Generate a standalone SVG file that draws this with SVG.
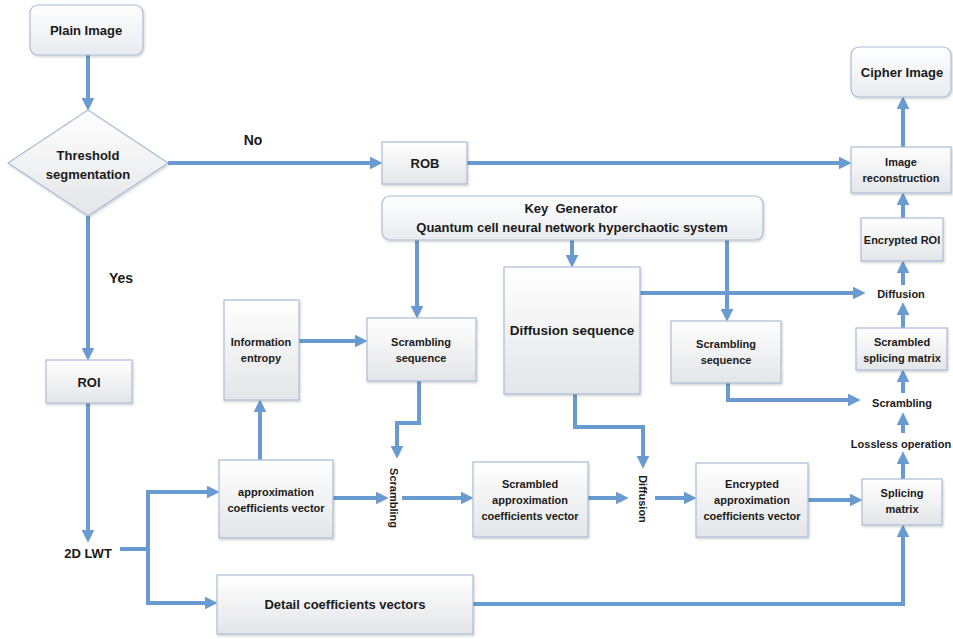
<svg xmlns="http://www.w3.org/2000/svg" width="953" height="639" viewBox="0 0 953 639">
<defs>
<linearGradient id="g" x1="0" y1="0" x2="0" y2="1">
<stop offset="0" stop-color="#ffffff"/>
<stop offset="1" stop-color="#e4e5e7"/>
</linearGradient>
<linearGradient id="gr" x1="0" y1="0" x2="0" y2="1">
<stop offset="0" stop-color="#ffffff"/>
<stop offset="1" stop-color="#e8ebef"/>
</linearGradient>
<filter id="sh" x="-10%" y="-10%" width="120%" height="130%">
<feDropShadow dx="1" dy="1.5" stdDeviation="1" flood-color="#000" flood-opacity="0.18"/>
</filter>
<marker id="ah" viewBox="0 0 12 12" refX="4" refY="6" markerWidth="13" markerHeight="13" markerUnits="userSpaceOnUse" orient="auto">
<path d="M0,0 L12,6 L0,12 z" fill="#6a9bd0"/>
</marker>
</defs>
<style>
.box{fill:url(#g);stroke:#a9bdd6;stroke-width:1.2;filter:url(#sh)}
.rbox{fill:url(#gr);stroke:#a9bdd6;stroke-width:1.2;filter:url(#sh)}
text{font-family:"Liberation Sans",Arial,sans-serif;font-weight:bold;fill:#1a1a1a;text-anchor:middle;dominant-baseline:central}
.s{font-size:11px}
.m{font-size:13px}
.l{font-size:14px}
.d{font-size:13.5px}
.c{fill:none;stroke:#6a9bd0;stroke-width:4}
.a{marker-end:url(#ah)}
</style>
<rect width="953" height="639" fill="#ffffff"/>

<g id="connectors">
<path class="c a" d="M88,55 V102"/>
<path class="c a" d="M168,163 H374"/>
<path class="c a" d="M467,163 H843"/>
<path class="c a" d="M88,216 V352"/>
<path class="c a" d="M88,403 V534"/>
<path class="c a" d="M120,549 H148 V492 H211"/>
<path class="c a" d="M148,549 V603 H209"/>
<path class="c a" d="M260,460 V408"/>
<path class="c a" d="M299,341 H359"/>
<path class="c a" d="M417,240 V310"/>
<path class="c a" d="M572,240 V259"/>
<path class="c a" d="M727,240 V313"/>
<path class="c a" d="M419,381 V423 H397 V450"/>
<path class="c a" d="M333,498 H380"/>
<path class="c a" d="M402,498 H465"/>
<path class="c a" d="M575,394 V427 H643 V460"/>
<path class="c a" d="M588,498 H620"/>
<path class="c a" d="M655,498 H688"/>
<path class="c a" d="M808,500 H854"/>
<path class="c a" d="M473,604 H903 V533"/>
<path class="c a" d="M903,479 V460"/>
<path class="c a" d="M903,433 V421"/>
<path class="c a" d="M903,393 V378"/>
<path class="c a" d="M903,328 V311"/>
<path class="c a" d="M903,285 V269"/>
<path class="c a" d="M903,218 V201"/>
<path class="c a" d="M903,147 V105"/>
<path class="c a" d="M640,293 H857"/>
<path class="c a" d="M728,383 V400 H852"/>
</g>

<g id="plain-image"><rect class="rbox" x="30" y="5" width="113" height="50" rx="8"/><text class="m" x="86" y="30">Plain Image</text></g>
<g id="threshold"><polygon class="box" points="88,110 168,163 88,216 8,163"/><text class="m" x="88" y="155">Threshold</text><text class="m" x="88" y="174">segmentation</text></g>
<g id="label-no"><text class="l" x="253" y="140">No</text></g>
<g id="label-yes"><text class="l" x="121" y="278">Yes</text></g>
<g id="rob"><rect class="box" x="382" y="142" width="85" height="42"/><text class="m" x="425" y="163">ROB</text></g>
<g id="image-reconstruction"><rect class="box" x="851" y="147" width="100" height="46"/><text class="s" x="901" y="162">Image</text><text class="s" x="901" y="178">reconstruction</text></g>
<g id="cipher-image"><rect class="rbox" x="851" y="47" width="100" height="50" rx="8"/><text class="m" x="902" y="72">Cipher Image</text></g>
<g id="encrypted-roi"><rect class="box" x="861" y="218" width="82" height="43"/><text class="s" x="902" y="240">Encrypted ROI</text></g>
<g id="key-generator"><rect class="rbox" x="382" y="196" width="381" height="44" rx="8"/><text class="m" x="571" y="208" xml:space="preserve">Key  Generator</text><text class="m" x="572" y="227">Quantum cell neural network hyperchaotic system</text></g>
<g id="scrambling-seq-left"><rect class="box" x="367" y="318" width="109" height="63"/><text class="s" x="421" y="342">Scrambling</text><text class="s" x="421" y="358">sequence</text></g>
<g id="diffusion-sequence"><rect class="box" x="504" y="267" width="136" height="127"/><text class="d" x="572" y="330">Diffusion sequence</text></g>
<g id="information-entropy"><rect class="box" x="224" y="300" width="75" height="100"/><text class="s" x="261" y="342">Information</text><text class="s" x="261" y="358">entropy</text></g>
<g id="scrambling-seq-right"><rect class="box" x="671" y="321" width="110" height="62"/><text class="s" x="726" y="344">Scrambling</text><text class="s" x="726" y="360">sequence</text></g>
<g id="diffusion-right"><text class="s" x="901" y="294">Diffusion</text></g>
<g id="scrambled-splicing"><rect class="box" x="856" y="328" width="91" height="42"/><text class="s" x="902" y="342">Scrambled</text><text class="s" x="902" y="358">splicing matrix</text></g>
<g id="scrambling-right"><text class="s" x="902" y="403">Scrambling</text></g>
<g id="lossless"><text class="s" x="901" y="444">Lossless operation</text></g>
<g id="splicing-matrix"><rect class="box" x="862" y="479" width="80" height="46"/><text class="s" x="902" y="493">Splicing</text><text class="s" x="902" y="509">matrix</text></g>
<g id="roi"><rect class="box" x="46" y="360" width="86" height="43"/><text class="m" x="89" y="382">ROI</text></g>
<g id="lwt"><text class="m" x="88" y="553">2D LWT</text></g>
<g id="approx"><rect class="box" x="219" y="460" width="114" height="78"/><text class="s" x="276" y="492">approximation</text><text class="s" x="276" y="508">coefficients vector</text></g>
<g id="scrambling-mid"><text class="s" transform="translate(394,498) rotate(90)">Scrambling</text></g>
<g id="scrambled-approx"><rect class="box" x="473" y="462" width="115" height="75"/><text class="s" x="530" y="484">Scrambled</text><text class="s" x="530" y="500">approximation</text><text class="s" x="530" y="516">coefficients vector</text></g>
<g id="diffusion-mid"><text class="s" transform="translate(643,499) rotate(90)">Diffusion</text></g>
<g id="encrypted-approx"><rect class="box" x="696" y="463" width="112" height="74"/><text class="s" x="752" y="484">Encrypted</text><text class="s" x="752" y="500">approximation</text><text class="s" x="752" y="516">coefficients vector</text></g>
<g id="detail"><rect class="box" x="217" y="575" width="256" height="59"/><text class="m" x="345" y="604">Detail coefficients vectors</text></g>
</svg>
